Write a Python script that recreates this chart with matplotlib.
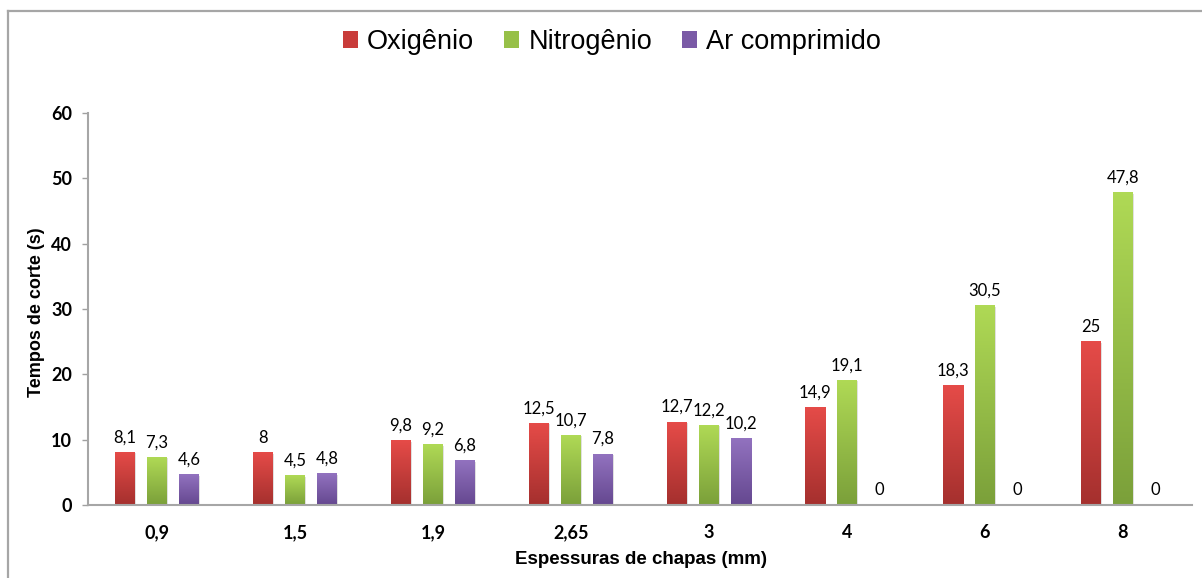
import numpy as np
import matplotlib
matplotlib.use("Agg")
import matplotlib.pyplot as plt
from matplotlib.colors import LinearSegmentedColormap
from matplotlib.patches import Patch, Rectangle
from matplotlib.lines import Line2D

# Dados: espessuras de chapa e tempos de corte por gás de assistência
espessuras = ["0,9", "1,5", "1,9", "2,65", "3", "4", "6", "8"]
series = ["Oxigênio", "Nitrogênio", "Ar comprimido"]
oxigenio = [8.1, 8, 9.8, 12.5, 12.7, 14.9, 18.3, 25]
nitrogenio = [7.3, 4.5, 9.2, 10.7, 12.2, 19.1, 30.5, 47.8]
ar_comprimido = [4.6, 4.8, 6.8, 7.8, 10.2, 0, 0, 0]
valores = [oxigenio, nitrogenio, ar_comprimido]

# Cores do degradê (topo, base) de cada série
cores = [("#e54b48", "#a5302e"), ("#afd955", "#7ba03a"), ("#9272bf", "#654890")]
cores_legenda = ["#c93c3a", "#97c048", "#7a5aa6"]

W, H = 1202, 578
fig = plt.figure(figsize=(W / 100, H / 100), dpi=100)
ax = fig.add_axes([88 / W, 1 - 505 / H, 1104 / W, 392 / H])

x = np.arange(len(espessuras))
largura = 20 / 138
passo = 32 / 138

for i, (vals, (c_top, c_bot)) in enumerate(zip(valores, cores)):
    cmap = LinearSegmentedColormap.from_list(series[i], [c_bot, c_top])
    grad = np.linspace(1, 0, 64).reshape(-1, 1)
    for xi, v in zip(x, vals):
        xc = xi + (i - 1) * passo
        if v > 0:
            # sombra leve
            ax.add_patch(Rectangle((xc - largura / 2 + 0.004, -0.25), largura + 0.006, v + 0.1,
                                   facecolor="#000000", alpha=0.12, linewidth=0, zorder=1))
            ax.imshow(grad, extent=[xc - largura / 2, xc + largura / 2, 0, v],
                      cmap=cmap, aspect="auto", zorder=2, interpolation="bilinear")
        rotulo = f"{v:g}".replace(".", ",")
        ax.annotate(rotulo, (xc, v), xytext=(0, 5), textcoords="offset points",
                    ha="center", va="bottom", fontsize=12, family="Lato", color="#000000")

ax.set_xlim(-0.5, len(espessuras) - 0.5)
ax.set_ylim(0, 60)
ax.set_yticks(range(0, 61, 10))
ax.set_xticks(x)
ax.set_xticklabels(espessuras)

for lab in ax.get_xticklabels() + ax.get_yticklabels():
    lab.set_family("Lato")
    lab.set_fontweight("bold")
    lab.set_fontsize(13)

ax.tick_params(axis="x", length=0, pad=14)
ax.tick_params(axis="y", length=4.5, width=1, color="#a0a0a0", pad=7)

for s in ["top", "right"]:
    ax.spines[s].set_visible(False)
for s in ["left", "bottom"]:
    ax.spines[s].set_color("#a6a6a6")
    ax.spines[s].set_linewidth(1.5)
ax.spines["bottom"].set_zorder(3)

fig.text(37 / W, 1 - 312 / H, "Tempos de corte (s)", rotation=90, ha="center", va="center",
         fontsize=13, fontweight="bold", family="Liberation Sans")
fig.text(641 / W, 1 - 560 / H, "Espessuras de chapas (mm)", ha="center", va="center",
         fontsize=13.5, fontweight="bold", family="Liberation Sans")

handles = [Patch(facecolor=c, edgecolor="none") for c in cores_legenda]
fig.legend(handles, series, loc="center", bbox_to_anchor=(612 / W, 1 - 42 / H), ncol=3,
           frameon=False, prop={"family": "Liberation Sans", "size": 19.5},
           handlelength=0.55, handleheight=0.55, handletextpad=0.35, columnspacing=1.1)

# moldura do gráfico
fig.add_artist(Line2D([8 / W, 8 / W], [0, 1 - 11 / H], color="#a6a6a6", linewidth=1.6))
fig.add_artist(Line2D([8 / W, 1], [1 - 11 / H, 1 - 11 / H], color="#a6a6a6", linewidth=1.6))

fig.savefig("out.png", dpi=100)
